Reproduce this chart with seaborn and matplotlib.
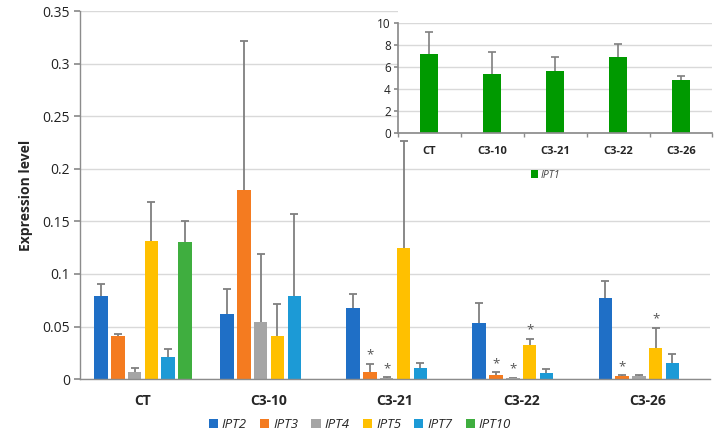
import numpy as np
import pandas as pd
import matplotlib
matplotlib.use('Agg')
import matplotlib.pyplot as plt
from matplotlib.patches import Rectangle
import seaborn as sns

lines = ['CT', 'C3-10', 'C3-21', 'C3-22', 'C3-26']
genes = ['IPT2', 'IPT3', 'IPT4', 'IPT5', 'IPT7', 'IPT10']

ipt2 = [0.079, 0.062, 0.0675, 0.053, 0.0776]
ipt2_err = [0.0116, 0.0235, 0.0135, 0.0192, 0.0159]
ipt3 = [0.0406, 0.180, 0.0067, 0.0038, 0.0032]
ipt3_err = [0.0019, 0.142, 0.0078, 0.0026, 0.0005]
ipt4 = [0.0064, 0.0545, 0.0012, 0.0010, 0.0025]
ipt4_err = [0.0044, 0.0645, 0.0008, 0.0005, 0.0015]
ipt5 = [0.131, 0.041, 0.125, 0.032, 0.0295]
ipt5_err = [0.037, 0.030, 0.1015, 0.0063, 0.0195]
ipt7 = [0.0206, 0.0786, 0.0102, 0.0054, 0.015]
ipt7_err = [0.0082, 0.0784, 0.0053, 0.0044, 0.0085]
ipt10 = [0.130, np.nan, np.nan, np.nan, np.nan]
ipt10_err = [0.020, np.nan, np.nan, np.nan, np.nan]

# significance marks (line, gene)
stars = [('C3-21', 'IPT3'), ('C3-21', 'IPT4'), ('C3-22', 'IPT3'), ('C3-22', 'IPT4'),
         ('C3-22', 'IPT5'), ('C3-26', 'IPT3'), ('C3-26', 'IPT5')]

ipt1 = [7.24, 5.36, 5.64, 6.97, 4.82]
ipt1_err = [1.94, 2.0, 1.26, 1.13, 0.36]

colors = ['#1f6fc6', '#f47b20', '#a5a5a5', '#ffc000', '#1c9ad6', '#3fae3f']
grey = '#7f7f7f'

vals = [ipt2, ipt3, ipt4, ipt5, ipt7, ipt10]
errs = [ipt2_err, ipt3_err, ipt4_err, ipt5_err, ipt7_err, ipt10_err]
rows = []
for g, v, e in zip(genes, vals, errs):
    for l, vv, ee in zip(lines, v, e):
        rows.append({'line': l, 'gene': g, 'value': vv, 'err': ee})
df = pd.DataFrame(rows).dropna()
err_lookup = {(r.line, r.gene): r.err for r in df.itertuples()}


def up_err(axis, x, h, e, lw):
    # plus-only error bar, no cap at the bar top
    eb = axis.errorbar(x, h, yerr=[[0], [e]], fmt='none', ecolor=grey,
                       elinewidth=lw, capsize=3, capthick=lw, zorder=1.5)
    eb[1][0].set_visible(False)


sns.set_theme(style='white')
plt.rcParams['font.family'] = ['Open Sans', 'DejaVu Sans']

fig = plt.figure(figsize=(7.27, 4.46), dpi=100)
ax = fig.add_axes([0.110, 0.150, 0.867, 0.825])
ax.set_zorder(0)

sns.barplot(data=df, x='line', y='value', hue='gene', order=lines, hue_order=genes,
            palette=colors, width=0.8, gap=0.2, dodge=True, errorbar=None,
            saturation=1, linewidth=0, legend=True, ax=ax)

for gene, cont in zip(genes, ax.containers):
    for bar in cont:
        bar.set_zorder(2)
        xc = bar.get_x() + bar.get_width() / 2
        h = bar.get_height()
        if np.isnan(h):
            continue
        line = lines[int(round(xc))]
        e = err_lookup[(line, gene)]
        up_err(ax, xc, h, e, 1.3)
        if (line, gene) in stars:
            ax.text(xc, h + e + 0.002, '*', ha='center', va='bottom',
                    fontsize=9.5, color='#555555')

ax.set_xlim(-0.5, 4.5)
ax.set_ylim(0, 0.35)
ax.set_yticks([0, 0.05, 0.1, 0.15, 0.2, 0.25, 0.3, 0.35])
ax.set_yticklabels(['0', '0.05', '0.1', '0.15', '0.2', '0.25', '0.3', '0.35'])
ax.yaxis.grid(True, color='#d9d9d9', linewidth=1)
ax.set_axisbelow(True)
for s in ['top', 'right']:
    ax.spines[s].set_visible(False)
for s in ['left', 'bottom']:
    ax.spines[s].set_color('#8c8c8c')
    ax.spines[s].set_linewidth(1)
    ax.spines[s].set_zorder(2.5)
ax.tick_params(axis='y', left=True, length=4, color='#8c8c8c', labelsize=10,
               labelcolor='#222222', pad=3)
ax.tick_params(axis='x', bottom=False, labelsize=10, pad=5)
for t in ax.get_xticklabels():
    t.set_fontweight('bold')
ax.set_xlabel('')
ax.set_ylabel('Expression level', fontsize=10, fontweight='bold', labelpad=7)

handles, labels = ax.get_legend_handles_labels()
ax.get_legend().remove()
fig.legend(handles, labels, loc='center', bbox_to_anchor=(0.495, 0.048), ncol=6,
           frameon=False, handlelength=0.7, handleheight=0.7, handletextpad=0.3,
           columnspacing=1.0, prop={'style': 'italic', 'size': 9.5})

# white box behind the inset
fig.patches.append(Rectangle((0.547, 0.686), 0.453, 0.314, transform=fig.transFigure,
                             facecolor='white', edgecolor='none', zorder=0.5))

axi = fig.add_axes([0.547, 0.701, 0.433, 0.2466])
axi.set_zorder(1)
axi.set_facecolor('white')
sns.barplot(x=lines, y=ipt1, color='#009a00', width=0.29, errorbar=None, ax=axi,
            label='IPT1', saturation=1, linewidth=0)
for bar, e in zip(axi.patches, ipt1_err):
    bar.set_zorder(2)
    xc = bar.get_x() + bar.get_width() / 2
    up_err(axi, xc, bar.get_height(), e, 1.2)
axi.set_xlim(-0.5, 4.5)
axi.set_ylim(0, 10)
axi.set_yticks([0, 2, 4, 6, 8, 10])
axi.yaxis.grid(True, color='#d9d9d9', linewidth=1)
axi.set_axisbelow(True)
for s in ['top', 'right']:
    axi.spines[s].set_visible(False)
for s in ['left', 'bottom']:
    axi.spines[s].set_color('#8c8c8c')
    axi.spines[s].set_zorder(2.5)
axi.set_xticks(np.arange(-0.5, 5, 1), minor=True)
axi.tick_params(axis='x', which='minor', bottom=True, length=3, color='#8c8c8c')
axi.tick_params(axis='x', which='major', bottom=False, labelsize=8, pad=3)
axi.tick_params(axis='y', left=True, length=3, color='#8c8c8c', labelsize=8.5,
                labelcolor='#222222', pad=2)
for t in axi.get_xticklabels():
    t.set_fontweight('bold')
axi.legend(loc='center', bbox_to_anchor=(0.47, -0.38), frameon=False,
           handlelength=0.7, handleheight=0.7, handletextpad=0.3,
           prop={'style': 'italic', 'size': 7.5}, labelcolor='#444444')

fig.savefig('out.png', dpi=100)
